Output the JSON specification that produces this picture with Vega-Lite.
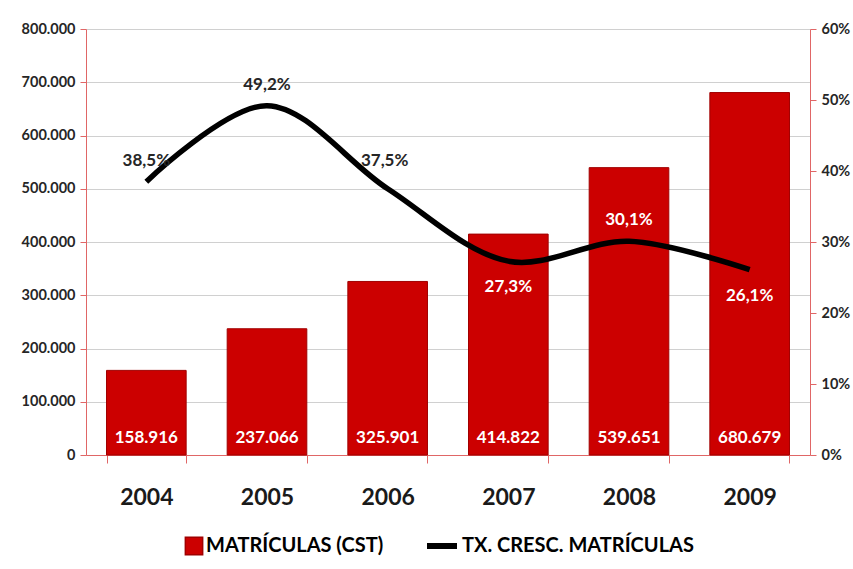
{
  "$schema": "https://vega.github.io/schema/vega-lite/v6.json",
  "width": 724,
  "height": 426,
  "autosize": {"type": "none"},
  "padding": {"left": 86, "top": 29, "right": 43, "bottom": 114},
  "background": "white",
  "config": {
    "locale": {"number": {"decimal": ",", "thousands": ".", "grouping": [3], "currency": ["", ""]}},
    "font": "Lato",
    "view": {"stroke": null}
  },
  "data": {
    "values": [
      {"year": "2004", "matriculas": 158916, "taxa": 0.385},
      {"year": "2005", "matriculas": 237066, "taxa": 0.492},
      {"year": "2006", "matriculas": 325901, "taxa": 0.375},
      {"year": "2007", "matriculas": 414822, "taxa": 0.273},
      {"year": "2008", "matriculas": 539651, "taxa": 0.301},
      {"year": "2009", "matriculas": 680679, "taxa": 0.261}
    ]
  },
  "encoding": {
    "x": {
      "field": "year",
      "type": "ordinal",
      "scale": {"paddingInner": 0.34, "paddingOuter": 0.17},
      "axis": {
        "title": null,
        "labelAngle": 0,
        "labelFont": "Lato",
        "labelFontSize": 23,
        "labelFontWeight": "bold",
        "labelColor": "#1a1a1a",
        "labelPadding": 23,
        "tickBand": "extent",
        "tickSize": 8,
        "tickColor": "#e06666",
        "domainColor": "#e06666",
        "domainWidth": 1
      }
    }
  },
  "layer": [
    {
      "layer": [
        {
          "mark": {"type": "bar", "stroke": "#a00000", "strokeWidth": 1},
          "encoding": {
            "y": {
              "field": "matriculas",
              "type": "quantitative",
              "scale": {"domain": [0, 800000]},
              "axis": {
                "title": null,
                "orient": "left",
                "values": [0, 100000, 200000, 300000, 400000, 500000, 600000, 700000, 800000],
                "format": ",d",
                "grid": true,
                "gridColor": "#d0d0d0",
                "gridWidth": 1,
                "domainColor": "#e06666",
                "tickColor": "#e06666",
                "tickSize": 6,
                "labelPadding": 5,
                "labelFont": "Lato",
                "labelFontSize": 14.5,
                "labelFontWeight": "bold",
                "labelColor": "#262626"
              }
            },
            "fill": {
              "datum": "MATRÍCULAS (CST)",
              "scale": {"range": ["#cc0000"]},
              "legend": {
                "title": null,
                "orient": "none",
                "legendX": 98,
                "legendY": 507,
                "symbolType": "square",
                "symbolSize": 300,
                "symbolStrokeColor": "#a00000",
                "labelFont": "Lato",
                "labelFontSize": 20,
                "labelFontWeight": "bold",
                "labelColor": "#000000",
                "labelOffset": 2,
                "labelLimit": 400
              }
            }
          }
        },
        {
          "mark": {"type": "text", "color": "white", "fontSize": 17, "fontWeight": "bold", "font": "Lato", "dy": -17, "baseline": "middle"},
          "encoding": {
            "y": {"datum": 0, "type": "quantitative"},
            "text": {"field": "matriculas", "type": "quantitative", "format": ",d"}
          }
        }
      ]
    },
    {
      "layer": [
        {
          "mark": {"type": "line", "color": "black", "strokeWidth": 5.5, "interpolate": "catmull-rom"},
          "encoding": {
            "y": {
              "field": "taxa",
              "type": "quantitative",
              "scale": {"domain": [0, 0.6]},
              "axis": {
                "title": null,
                "orient": "right",
                "values": [0, 0.1, 0.2, 0.3, 0.4, 0.5, 0.6],
                "format": ".0%",
                "grid": false,
                "domainColor": "#e06666",
                "tickColor": "#e06666",
                "tickSize": 6,
                "labelPadding": 5,
                "labelFont": "Lato",
                "labelFontSize": 14.5,
                "labelFontWeight": "bold",
                "labelColor": "#262626"
              }
            },
            "stroke": {
              "datum": "TX. CRESC. MATRÍCULAS",
              "scale": {"range": ["#000000"]},
              "legend": {
                "title": null,
                "orient": "none",
                "legendX": 338,
                "legendY": 499,
                "symbolType": "stroke",
                "symbolSize": 900,
                "symbolStrokeWidth": 6,
                "labelFont": "Lato",
                "labelFontSize": 20,
                "labelFontWeight": "bold",
                "labelColor": "#000000",
                "labelOffset": 2,
                "labelLimit": 400
              }
            }
          }
        },
        {
          "transform": [{"filter": "indexof(['2004','2005','2008'], datum.year) >= 0"}],
          "mark": {"type": "text", "fontSize": 17, "fontWeight": "bold", "font": "Lato", "dy": -21, "baseline": "middle"},
          "encoding": {
            "y": {"field": "taxa", "type": "quantitative"},
            "text": {"field": "taxa", "type": "quantitative", "format": ".1%"},
            "color": {"condition": {"test": "datum.year == '2008'", "value": "white"}, "value": "#262626"}
          }
        },
        {
          "transform": [{"filter": "datum.year == '2006'"}],
          "mark": {"type": "text", "fontSize": 17, "fontWeight": "bold", "font": "Lato", "dy": -28, "dx": -3, "baseline": "middle", "color": "#262626"},
          "encoding": {
            "y": {"field": "taxa", "type": "quantitative"},
            "text": {"field": "taxa", "type": "quantitative", "format": ".1%"}
          }
        },
        {
          "transform": [{"filter": "indexof(['2007','2009'], datum.year) >= 0"}],
          "mark": {"type": "text", "fontSize": 17, "fontWeight": "bold", "font": "Lato", "dy": 26, "baseline": "middle", "color": "white"},
          "encoding": {
            "y": {"field": "taxa", "type": "quantitative"},
            "text": {"field": "taxa", "type": "quantitative", "format": ".1%"}
          }
        }
      ]
    }
  ],
  "resolve": {"scale": {"y": "independent"}}
}
